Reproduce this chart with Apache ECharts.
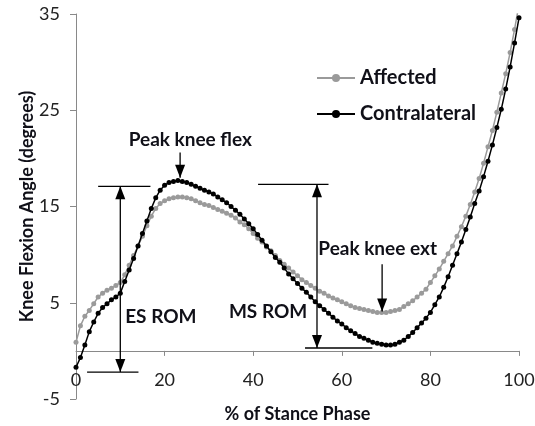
<!DOCTYPE html>
<html><head><meta charset="utf-8">
<script src="https://cdn.jsdelivr.net/npm/echarts@6/dist/echarts.min.js"></script>
<style>html,body{margin:0;padding:0;background:#fff}#c{width:535px;height:426px}</style>
</head><body><div id="c"></div>
<script>
// % of stance phase (sampling grid)
const stance = [0,1,2,3,4,5,6,7,8,9,10,11,12,13,14,15,16,17,18,19,20,21,22,23,24,25,26,27,28,29,30,31,32,33,34,35,36,37,38,39,40,41,42,43,44,45,46,47,48,49,50,51,52,53,54,55,56,57,58,59,60,61,62,63,64,65,66,67,68,69,70,71,72,73,74,75,76,77,78,79,80,81,82,83,84,85,86,87,88,89,90,91,92,93,94,95,96,97,98,99,100];
// Knee flexion angle (degrees)
const affected = [0.9,2.6,3.6,4.2,4.9,5.6,6.0,6.3,6.5,6.8,7.1,7.9,8.9,9.9,10.9,11.9,13.0,14.0,14.8,15.3,15.6,15.8,15.9,16.0,16.0,15.9,15.8,15.6,15.4,15.2,15.1,14.9,14.7,14.5,14.3,14.1,13.8,13.4,13.1,12.7,12.2,11.7,11.3,10.8,10.4,9.9,9.4,9.0,8.6,8.2,7.8,7.4,7.1,6.8,6.5,6.2,6.0,5.7,5.5,5.3,5.1,4.9,4.7,4.5,4.4,4.3,4.2,4.1,4.0,4.0,4.0,4.1,4.2,4.3,4.6,4.9,5.2,5.6,6.0,6.4,7.1,7.8,8.5,9.3,10.1,10.9,11.9,12.9,14.0,15.2,16.5,17.9,19.5,21.2,22.9,24.8,26.8,28.8,31.0,33.4,36.0];
const contralateral = [-1.7,-0.7,0.6,2.0,3.0,3.9,4.5,4.9,5.3,5.6,6.0,7.2,8.4,9.6,10.9,12.2,13.5,14.8,15.9,16.7,17.2,17.5,17.6,17.7,17.6,17.5,17.3,17.1,16.9,16.7,16.5,16.3,16.0,15.7,15.4,15.0,14.6,14.2,13.7,13.2,12.7,12.1,11.5,10.9,10.3,9.7,9.2,8.6,8.0,7.5,7.0,6.5,6.1,5.6,5.1,4.7,4.3,3.9,3.5,3.1,2.8,2.4,2.1,1.8,1.5,1.3,1.1,0.9,0.8,0.7,0.6,0.6,0.7,0.9,1.1,1.5,1.9,2.4,2.9,3.4,4.0,4.8,5.6,6.6,7.7,8.9,10.1,11.3,12.6,13.9,15.3,16.6,18.1,19.7,21.4,23.2,25.1,27.2,29.5,32.0,34.6];
const seriesNames = ['Affected','Contralateral'];
const xTickRange = {min:0, max:100, interval:20};
const yTickRange = {min:-5, max:35, interval:10};

// annotation anchors in data coordinates [stance %, degrees]
const esRom = {x:10.0, top:17.1, bottom:-2.2, topLine:[5.0,16.8], bottomLine:[2.5,14.1], label:[11.1,3.5]};
const msRom = {x:54.4, top:17.3, bottom:0.3, topLine:[41.1,57.0], bottomLine:[51.7,66.9], label:[52.2,4.1]};
const peakFlex = {x:23.5, from:20.6, to:18.0, label:[25.8,21.9]};
const peakExt = {x:69.1, from:9.0, to:4.1, label:[54.7,10.6]};

const FONT = 'Lato';
const TXT = '#101018';
const chart = echarts.init(document.getElementById('c'));
const axisColor = '#898989';
chart.setOption({
  animation:false,
  backgroundColor:'#fff',
  grid:{left:76,right:16,top:14,bottom:27,containLabel:false,outerBoundsMode:'none'},
  legend:{
    orient:'vertical', left:311, top:63, itemWidth:38, itemHeight:10, itemGap:16,
    textStyle:{fontFamily:FONT,fontSize:20,fontWeight:'bold',color:TXT},
    data:seriesNames
  },
  xAxis:{
    type:'value', min:xTickRange.min, max:xTickRange.max, interval:xTickRange.interval,
    name:'% of Stance Phase', nameLocation:'middle', nameGap:6, nameMoveOverlap:false,
    nameTextStyle:{fontFamily:FONT,fontSize:18,fontWeight:'bold',color:TXT},
    axisLine:{onZero:true,lineStyle:{color:axisColor,width:1}},
    axisTick:{show:true,length:5,inside:false,lineStyle:{color:axisColor}},
    axisLabel:{margin:-28,fontFamily:FONT,fontSize:18,color:'#222'},
    splitLine:{show:false}
  },
  yAxis:{
    type:'value', min:yTickRange.min, max:yTickRange.max, interval:yTickRange.interval,
    name:'Knee Flexion Angle (degrees)', nameLocation:'middle', nameGap:40, nameRotate:90, nameMoveOverlap:false,
    nameTextStyle:{fontFamily:FONT,fontSize:18,fontWeight:'bold',color:TXT},
    axisLine:{show:true,lineStyle:{color:axisColor,width:1}},
    axisTick:{show:true,length:6,lineStyle:{color:axisColor}},
    axisLabel:{margin:16,fontFamily:FONT,fontSize:18,color:'#222'},
    splitLine:{show:false}
  },
  series:[
    {name:seriesNames[0],type:'line',data:stance.map((x,i)=>[x,affected[i]]),
     symbol:'circle',symbolSize:5,clip:true,
     lineStyle:{color:'#9a9a9a',width:1.5},itemStyle:{color:'#9a9a9a'},z:2},
    {name:seriesNames[1],type:'line',data:stance.map((x,i)=>[x,contralateral[i]]),
     symbol:'circle',symbolSize:5,clip:true,
     lineStyle:{color:'#000',width:1.5},itemStyle:{color:'#000'},z:3}
  ]
});

function px(x,y){return chart.convertToPixel({gridIndex:0},[x,y]);}
const g = [];
function line(a,b){g.push({type:'line',shape:{x1:a[0],y1:a[1],x2:b[0],y2:b[1]},style:{stroke:'#000',lineWidth:1.3},z:100});}
function head(tip,dir){ // dir: 1 = pointing down, -1 = pointing up
  const w=5,h=13;
  g.push({type:'polygon',shape:{points:[[tip[0],tip[1]],[tip[0]-w,tip[1]-dir*h],[tip[0]+w,tip[1]-dir*h]]},style:{fill:'#000'},z:100});
}
function text(p,s,align){g.push({type:'text',x:p[0],y:p[1],style:{text:s,fontFamily:FONT,fontSize:19,fontWeight:'bold',fill:TXT,align:align,verticalAlign:'middle'},z:100});}
function rom(r){
  const t=px(r.x,r.top), b=px(r.x,r.bottom);
  line(t,b); head(t,-1); head(b,1);
  line(px(r.topLine[0],r.top),px(r.topLine[1],r.top));
  line(px(r.bottomLine[0],r.bottom),px(r.bottomLine[1],r.bottom));
}
rom(esRom); rom(msRom);
text(px(esRom.label[0],esRom.label[1]),'ES ROM','left');
text(px(msRom.label[0],msRom.label[1]),'MS ROM','right');
function pointer(p){const a=px(p.x,p.from),b=px(p.x,p.to);line(a,b);head(b,1);}
pointer(peakFlex); pointer(peakExt);
text(px(peakFlex.label[0],peakFlex.label[1]),'Peak knee flex','center');
text(px(peakExt.label[0],peakExt.label[1]),'Peak knee ext','left');
chart.setOption({graphic:g});
</script></body></html>
